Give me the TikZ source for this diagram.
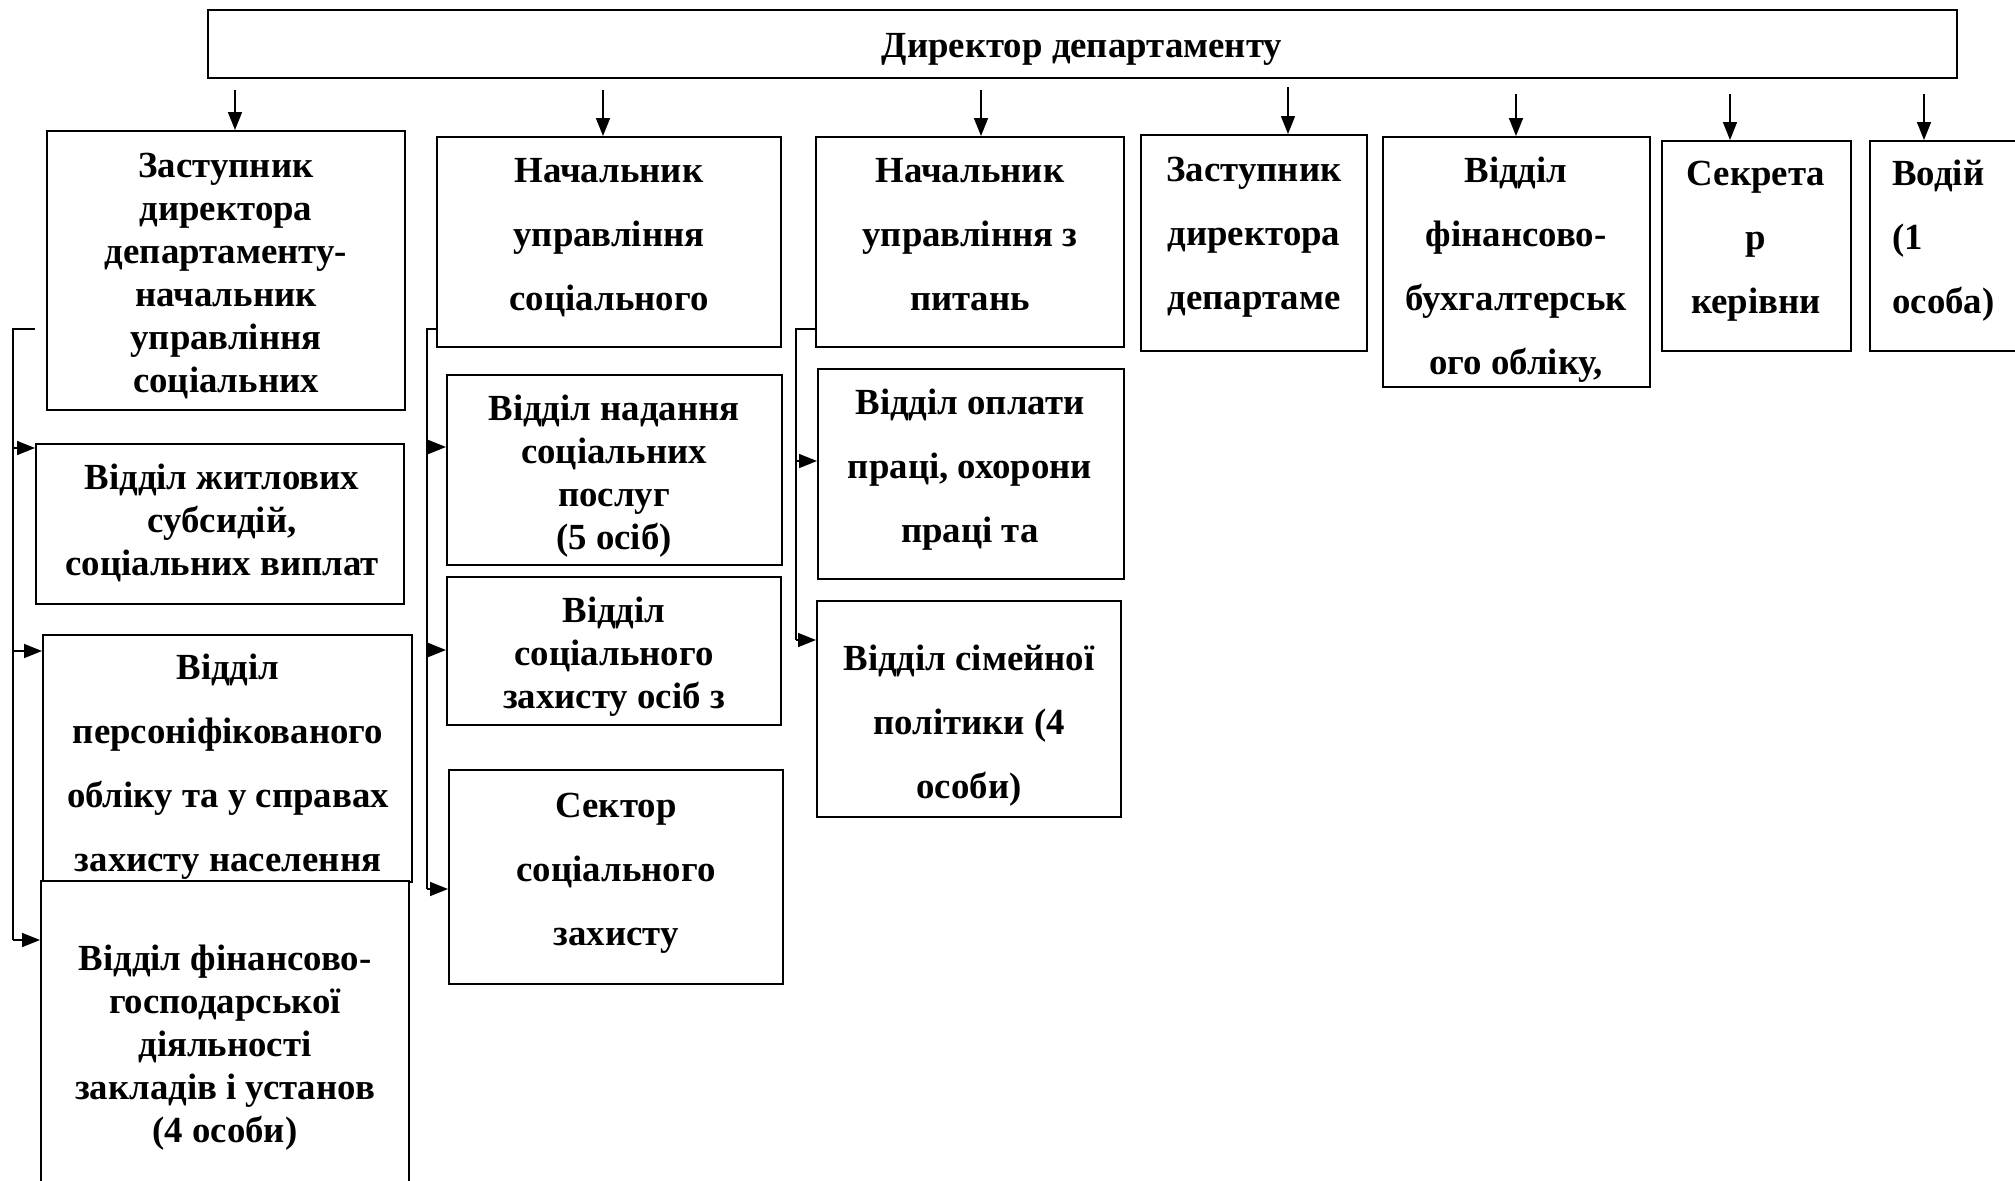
\documentclass[tikz,border=0pt]{standalone}
\usepackage{fontspec}
\setmainfont{Liberation Serif}
\usetikzlibrary{fit,arrows.meta}
\newcommand\fl{\rule{0pt}{13pt}}
\tikzset{
  box/.style={draw=black, line width=1pt, fill=white, inner sep=0pt, rectangle},
  txt/.style={inner sep=0pt, align=center, anchor=north, font=\bfseries\fontsize{18.4}{21.5}\selectfont},
  txtd/.style={txt, font=\bfseries\fontsize{18.4}{32}\selectfont},
  conn/.style={draw=black, line width=0.8pt},
  arr/.style={conn, -{Triangle[length=9pt,width=7pt]}}
}
\begin{document}
\begin{tikzpicture}[x=0.5pt,y=-0.5pt]
\useasboundingbox (0,0) rectangle (2015,1180);
\fill[white] (0,0) rectangle (2015,1180);
% director
\node[box, line width=1.2pt, fit={(208,10)(1957,78)}] (dir) {};
\node[txt] (dirt) at (1082,31) {\fl Директор департаменту};
% first row
\node[box, fit={(47,131)(405,410)}] (B1) {};
\node[txt] (B1t) at (226,151) {\fl Заступник\\директора\\департаменту-\\начальник\\управління\\соціальних};
\node[box, fit={(437,137)(781,347)}] (B2) {};
\node[txtd] (B2t) at (609,156) {\fl Начальник\\управління\\соціального};
\node[box, fit={(816,137)(1124,347)}] (B3) {};
\node[txtd] (B3t) at (970,156) {\fl Начальник\\управління з\\питань};
\node[box, fit={(1141,135)(1367,351)}] (B4) {};
\node[txtd] (B4t) at (1254,155) {\fl Заступник\\директора\\департаме};
\node[box, fit={(1383,137)(1650,387)}] (B5) {};
\node[txtd] (B5t) at (1516,156) {\fl Відділ\\фінансово-\\бухгалтерськ\\ого обліку,};
\node[box, fit={(1662,141)(1851,351)}] (B6) {};
\node[txtd] (B6t) at (1756,159) {\fl Секрета\\р\\керівни};
\node[box, fit={(1870,141)(2060,351)}] (B7) {};
\node[txtd, align=left, anchor=north west] (B7t) at (1892,159) {\fl Водій\\(1\\особа)};
% arrows from director
\coordinate (s1) at (235,90);
\coordinate (s2) at (603,90);
\coordinate (s3) at (981,90);
\coordinate (s4) at (1288,87);
\coordinate (s5) at (1516,94);
\coordinate (s6) at (1730,94);
\coordinate (s7) at (1924,94);
\draw[arr] (s1) -- (s1 |- B1.north);
\draw[arr] (s2) -- (s2 |- B2.north);
\draw[arr] (s3) -- (s3 |- B3.north);
\draw[arr] (s4) -- (s4 |- B4.north);
\draw[arr] (s5) -- (s5 |- B5.north);
\draw[arr] (s6) -- (s6 |- B6.north);
\draw[arr] (s7) -- (s7 |- B7.north);
% left column
\node[box, fit={(36,444)(404,604)}] (C1) {};
\node[txt] (C1t) at (222,463) {\fl Відділ житлових\\субсидій,\\соціальних виплат};
\node[box, fit={(43,635)(412,882)}] (C2) {};
\node[txtd] (C2t) at (228,653) {\fl Відділ\\персоніфікованого\\обліку та у справах\\захисту населення};
\node[box, fit={(41,881)(409,1210)}] (C3) {};
\node[txt] (C3t) at (225,944) {\fl Відділ фінансово-\\господарської\\діяльності\\закладів і установ\\(4 особи)};
% middle column
\node[box, fit={(447,375)(782,565)}] (D1) {};
\node[txt] (D1t) at (614,394) {\fl Відділ надання\\соціальних\\послуг\\(5 осіб)};
\node[box, fit={(447,577)(781,725)}] (D2) {};
\node[txt] (D2t) at (614,596) {\fl Відділ\\соціального\\захисту осіб з};
\node[box, fit={(449,770)(783,984)}] (D3) {};
\node[txtd] (D3t) at (616,791) {\fl Сектор\\соціального\\захисту};
% right column
\node[box, fit={(818,369)(1124,579)}] (E1) {};
\node[txtd] (E1t) at (970,388) {\fl Відділ оплати\\праці, охорони\\праці та};
\node[box, fit={(817,601)(1121,817)}] (E2) {};
\node[txtd] (E2t) at (969,644) {\fl Відділ сімейної\\політики (4\\особи)};
% left bus
\coordinate (L0) at (35,329);
\coordinate (Ltop) at (13,329);
\coordinate (La) at (13,448);
\coordinate (Lb) at (13,651);
\coordinate (Lc) at (13,940);
\draw[conn] (L0) -- (Ltop) -- (Lc);
\draw[arr] (La) -- (La -| C1.west);
\draw[arr] (Lb) -- (Lb -| C2.west);
\draw[arr] (Lc) -- (Lc -| C3.west);
% middle bus
\coordinate (Mtop) at (427,329);
\coordinate (Ma) at (427,447);
\coordinate (Mb) at (427,650);
\coordinate (Mc) at (427,889);
\draw[conn] (Mtop -| B2.west) -- (Mtop) -- (Mc);
\draw[arr] (Ma) -- (Ma -| D1.west);
\draw[arr] (Mb) -- (Mb -| D2.west);
\draw[arr] (Mc) -- (Mc -| D3.west);
% right bus
\coordinate (Rtop) at (796,329);
\coordinate (Ra) at (796,461);
\coordinate (Rb) at (796,640);
\draw[conn] (Rtop -| B3.west) -- (Rtop) -- (Rb);
\draw[arr] (Ra) -- (Ra -| E1.west);
\draw[arr] (Rb) -- (Rb -| E2.west);
\end{tikzpicture}
\end{document}
